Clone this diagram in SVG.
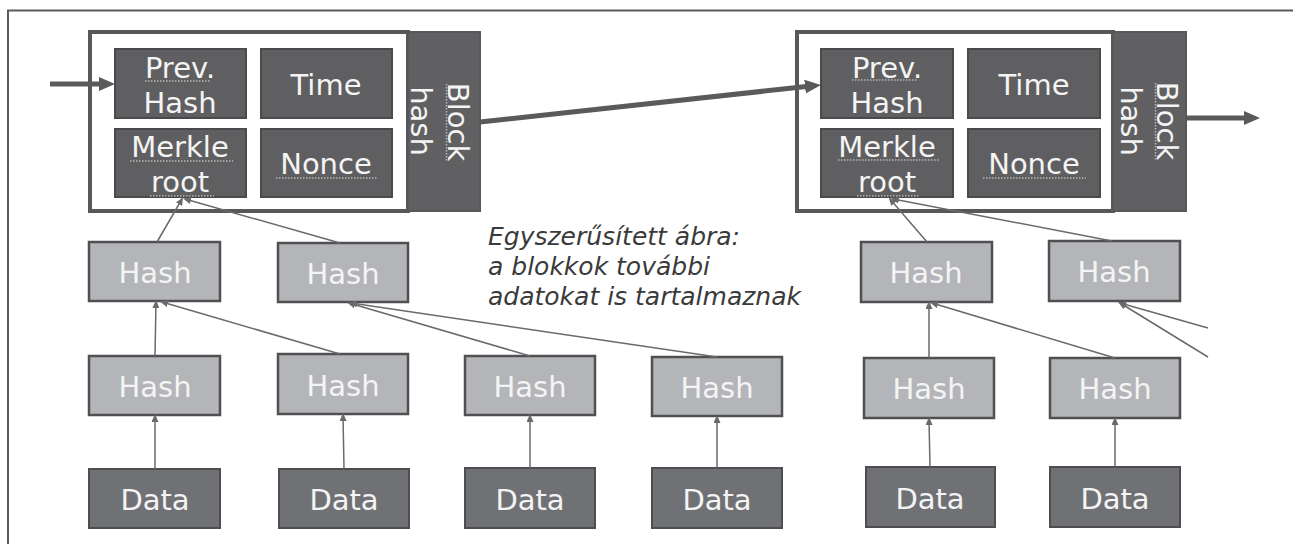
<svg xmlns="http://www.w3.org/2000/svg" width="1293" height="544" viewBox="0 0 1293 544">
<defs>
<style>
.frame{stroke:#5a5a5a;stroke-width:2;fill:none}
.blk{fill:#ffffff;stroke:#58585a;stroke-width:4}
.bh{fill:#606062;stroke:#58585a;stroke-width:2}
.fld{fill:#5f5f61;stroke:#4a4a4c;stroke-width:2}
.hash{fill:#b4b5b8;stroke:#505052;stroke-width:2.5}
.data{fill:#707174;stroke:#4e4e50;stroke-width:2}
.lbl{font-family:"DejaVu Sans",sans-serif;font-size:29px;fill:#f4f4f4;text-anchor:middle}
.note{font-family:"DejaVu Sans",sans-serif;font-size:25px;font-style:italic;fill:#3a3a3a}
.thick{stroke:#5a5a5c;stroke-width:5;fill:none}
.thin{stroke:#6a6a6c;stroke-width:1.5;fill:none}
.sq{stroke:#b8b8b8;stroke-width:1.5;stroke-dasharray:1.5 1.5;fill:none}
</style>
<marker id="big" viewBox="0 0 16 14" markerUnits="userSpaceOnUse" markerWidth="16" markerHeight="14" refX="6" refY="7" orient="auto">
<path d="M0,0 L16,7 L0,14 z" fill="#5a5a5c"/>
</marker>
<marker id="sm" viewBox="0 0 8 7" markerUnits="userSpaceOnUse" markerWidth="8" markerHeight="7" refX="6" refY="3.5" orient="auto">
<path d="M0,0 L8,3.5 L0,7 z" fill="#6a6a6c"/>
</marker>
</defs>

<path class="frame" d="M8,544 L8,10.5 L1293,10.5"/>

<g id="block1">
<rect class="blk" x="90" y="32" width="318" height="179"/>
<rect class="bh" x="408" y="32" width="72" height="179"/>
<text class="lbl" transform="translate(448,122) rotate(90)">Block</text>
<text class="lbl" transform="translate(411,121) rotate(90)">hash</text>
<line class="sq" x1="446.5" y1="84" x2="446.5" y2="162"/>
</g>
<g id="b1-prev">
<rect class="fld" x="115" y="49" width="131" height="69"/>
<text class="lbl" x="180" y="78">Prev.</text>
<text class="lbl" x="180" y="113">Hash</text>
<line class="sq" x1="145" y1="81" x2="211" y2="81"/>
</g>
<g id="b1-time">
<rect class="fld" x="261" y="49" width="131" height="69"/>
<text class="lbl" x="326" y="95">Time</text>
</g>
<g id="b1-merkle">
<rect class="fld" x="115" y="129" width="131" height="68"/>
<text class="lbl" x="180" y="157">Merkle</text>
<text class="lbl" x="180" y="192">root</text>
<line class="sq" x1="130" y1="161" x2="233" y2="161"/>
<line class="sq" x1="150" y1="196" x2="214" y2="196"/>
</g>
<g id="b1-nonce">
<rect class="fld" x="261" y="129" width="131" height="68"/>
<text class="lbl" x="326" y="174">Nonce</text>
<line class="sq" x1="276" y1="178" x2="378" y2="178"/>
</g>

<g id="block2">
<rect class="blk" x="797" y="32" width="316" height="179"/>
<rect class="bh" x="1113" y="32" width="73" height="179"/>
<text class="lbl" transform="translate(1157,121) rotate(90)">Block</text>
<text class="lbl" transform="translate(1121,121) rotate(90)">hash</text>
<line class="sq" x1="1155.5" y1="83" x2="1155.5" y2="160"/>
</g>
<g id="b2-prev">
<rect class="fld" x="821" y="49" width="132" height="69"/>
<text class="lbl" x="887" y="78">Prev.</text>
<text class="lbl" x="887" y="113">Hash</text>
<line class="sq" x1="852" y1="80" x2="918" y2="80"/>
</g>
<g id="b2-time">
<rect class="fld" x="968" y="49" width="132" height="69"/>
<text class="lbl" x="1034" y="95">Time</text>
</g>
<g id="b2-merkle">
<rect class="fld" x="821" y="129" width="132" height="68"/>
<text class="lbl" x="887" y="157">Merkle</text>
<text class="lbl" x="887" y="192">root</text>
<line class="sq" x1="838" y1="160" x2="940" y2="160"/>
<line class="sq" x1="857" y1="196" x2="920" y2="196"/>
</g>
<g id="b2-nonce">
<rect class="fld" x="968" y="129" width="132" height="68"/>
<text class="lbl" x="1034" y="174">Nonce</text>
<line class="sq" x1="983" y1="178" x2="1086" y2="178"/>
</g>

<g id="h2-1"><rect class="hash" x="89" y="242" width="131" height="59"/><text class="lbl" x="155" y="283">Hash</text></g>
<g id="h2-2"><rect class="hash" x="278" y="243" width="130" height="59"/><text class="lbl" x="343" y="284">Hash</text></g>
<g id="h2-3"><rect class="hash" x="861" y="242" width="131" height="60"/><text class="lbl" x="926" y="283">Hash</text></g>
<g id="h2-4"><rect class="hash" x="1049" y="241" width="131" height="60"/><text class="lbl" x="1114" y="282">Hash</text></g>

<g id="h3-1"><rect class="hash" x="89" y="356" width="131" height="59"/><text class="lbl" x="155" y="397">Hash</text></g>
<g id="h3-2"><rect class="hash" x="278" y="354" width="130" height="60"/><text class="lbl" x="343" y="396">Hash</text></g>
<g id="h3-3"><rect class="hash" x="465" y="356" width="130" height="59"/><text class="lbl" x="530" y="397">Hash</text></g>
<g id="h3-4"><rect class="hash" x="652" y="357" width="130" height="59"/><text class="lbl" x="717" y="398">Hash</text></g>
<g id="h3-5"><rect class="hash" x="864" y="358" width="130" height="60"/><text class="lbl" x="929" y="399">Hash</text></g>
<g id="h3-6"><rect class="hash" x="1050" y="358" width="130" height="60"/><text class="lbl" x="1115" y="399">Hash</text></g>

<g id="d1"><rect class="data" x="89" y="469" width="131" height="59"/><text class="lbl" x="155" y="510">Data</text></g>
<g id="d2"><rect class="data" x="279" y="469" width="130" height="59"/><text class="lbl" x="344" y="510">Data</text></g>
<g id="d3"><rect class="data" x="465" y="468" width="130" height="60"/><text class="lbl" x="530" y="510">Data</text></g>
<g id="d4"><rect class="data" x="652" y="468" width="130" height="60"/><text class="lbl" x="717" y="510">Data</text></g>
<g id="d5"><rect class="data" x="866" y="467" width="129" height="60"/><text class="lbl" x="930" y="509">Data</text></g>
<g id="d6"><rect class="data" x="1050" y="467" width="130" height="60"/><text class="lbl" x="1115" y="509">Data</text></g>

<g id="note">
<text class="note" x="488" y="245">Egyszerűsített ábra:</text>
<text class="note" x="488" y="275">a blokkok további</text>
<text class="note" x="488" y="305">adatokat is tartalmaznak</text>
</g>

<g id="connectors">
<line class="thick" x1="50" y1="84" x2="105" y2="84" marker-end="url(#big)"/>
<line class="thick" x1="480" y1="122" x2="811" y2="86" marker-end="url(#big)"/>
<line class="thick" x1="1187" y1="118" x2="1250" y2="118" marker-end="url(#big)"/>

<line class="thin" x1="155" y1="469" x2="155" y2="416" marker-end="url(#sm)"/>
<line class="thin" x1="344" y1="469" x2="343" y2="415" marker-end="url(#sm)"/>
<line class="thin" x1="530" y1="468" x2="530" y2="416" marker-end="url(#sm)"/>
<line class="thin" x1="717" y1="468" x2="717" y2="417" marker-end="url(#sm)"/>
<line class="thin" x1="930" y1="467" x2="929" y2="419" marker-end="url(#sm)"/>
<line class="thin" x1="1115" y1="467" x2="1115" y2="419" marker-end="url(#sm)"/>

<line class="thin" x1="155" y1="356" x2="156" y2="302" marker-end="url(#sm)"/>
<line class="thin" x1="340" y1="354" x2="162" y2="302" marker-end="url(#sm)"/>
<line class="thin" x1="530" y1="356" x2="349" y2="303" marker-end="url(#sm)"/>
<line class="thin" x1="717" y1="357" x2="351" y2="303" marker-end="url(#sm)"/>
<line class="thin" x1="929" y1="358" x2="929" y2="303" marker-end="url(#sm)"/>
<line class="thin" x1="1115" y1="358" x2="932" y2="303" marker-end="url(#sm)"/>
<line class="thin" x1="1208" y1="328" x2="1120" y2="303" marker-end="url(#sm)"/>
<line class="thin" x1="1208" y1="357" x2="1120" y2="303" marker-end="url(#sm)"/>

<line class="thin" x1="157" y1="242" x2="182" y2="199" marker-end="url(#sm)"/>
<line class="thin" x1="340" y1="243" x2="185" y2="199" marker-end="url(#sm)"/>
<line class="thin" x1="927" y1="242" x2="890" y2="199" marker-end="url(#sm)"/>
<line class="thin" x1="1112" y1="241" x2="893" y2="199" marker-end="url(#sm)"/>
</g>
</svg>
